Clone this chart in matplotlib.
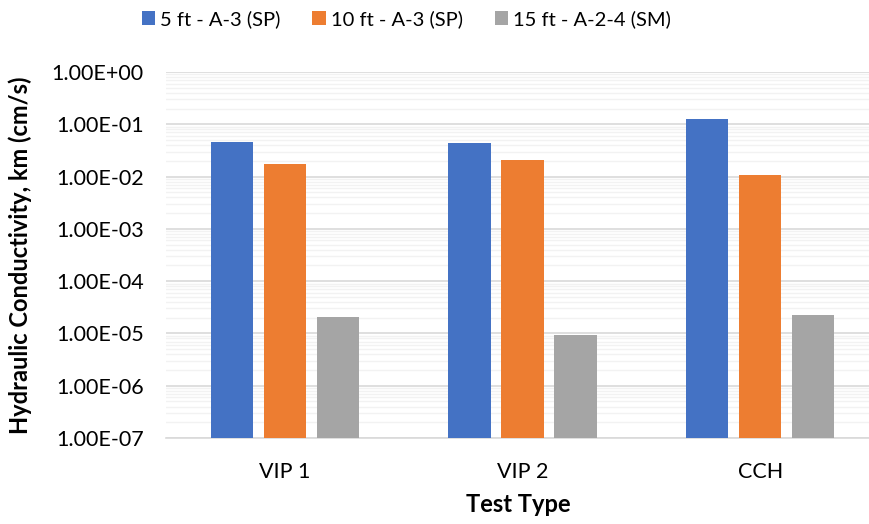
import numpy as np
import matplotlib.pyplot as plt
from matplotlib.ticker import LogLocator, FuncFormatter, NullFormatter

categories = ["VIP 1", "VIP 2", "CCH"]
series_names = ["5 ft - A-3 (SP)", "10 ft - A-3 (SP)", "15 ft - A-2-4 (SM)"]
k_5ft = [4.65e-2, 4.4e-2, 1.24e-1]
k_10ft = [1.77e-2, 2.05e-2, 1.06e-2]
k_15ft = [2.07e-5, 9.3e-6, 2.26e-5]
colors = ["#4472C4", "#ED7D31", "#A5A5A5"]

plt.rcParams['font.family'] = ['Lato', 'DejaVu Sans']

fig = plt.figure(figsize=(8.7, 5.24), dpi=100)
ax = fig.add_axes([166/870, 86/524, 704/870, 366/524])

x = np.arange(len(categories))
width = 0.177
step = 0.223
for i, (vals, name) in enumerate(zip([k_5ft, k_10ft, k_15ft], series_names)):
    ax.bar(x + (i - 1) * step, vals, width, color=colors[i], label=name,
           zorder=3, bottom=1e-7)

ax.set_yscale('log')
ax.set_ylim(1e-7, 1e0)
ax.set_xlim(-0.5, 2.5 - 9/237.5)
ax.yaxis.set_major_locator(LogLocator(base=10, numticks=10))
ax.yaxis.set_minor_locator(LogLocator(base=10, subs=np.arange(2, 10), numticks=100))
ax.yaxis.set_major_formatter(FuncFormatter(lambda v, p: f"{v:.2E}"))
ax.yaxis.set_minor_formatter(NullFormatter())
ax.grid(which='major', axis='y', color='#d9d9d9', lw=1.2, zorder=0)
ax.grid(which='minor', axis='y', color='#f2f2f2', lw=1.0, zorder=0)

for s in ['top', 'right', 'left']:
    ax.spines[s].set_visible(False)
ax.spines['bottom'].set_color('#d9d9d9')
ax.spines['bottom'].set_linewidth(1.2)
ax.tick_params(axis='both', which='both', length=0, labelsize=15.5, colors='black')
ax.tick_params(axis='y', pad=16)
ax.tick_params(axis='x', pad=17)
ax.set_xticks(x)
ax.set_xticklabels(categories)

ax.set_xlabel("Test Type", fontsize=17, fontweight='bold', labelpad=8)
ax.set_ylabel("Hydraulic Conductivity, km (cm/s)", fontsize=17, fontweight='bold', labelpad=14)

fig.legend(loc='upper center', bbox_to_anchor=(0.467, 1.015), ncol=3, frameon=False,
           fontsize=14.5, handlelength=0.65, handleheight=0.65, handletextpad=0.25,
           columnspacing=1.6)

fig.savefig("out.png", dpi=100)
